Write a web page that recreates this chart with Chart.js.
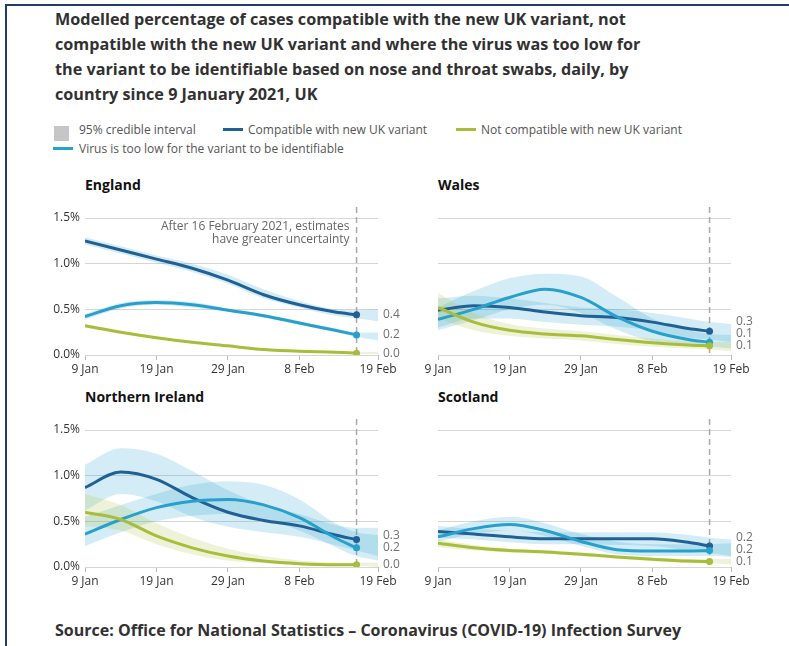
<!DOCTYPE html>
<html>
<head>
<meta charset="utf-8">
<script src="https://cdn.jsdelivr.net/npm/chart.js@4.4.1/dist/chart.umd.min.js"></script>
<style>
  body { margin: 0; background: #fff; font-family: "Open Sans", sans-serif; color: #222; }
  #page { position: relative; width: 789px; height: 646px; overflow: hidden; }
  #frame { position: absolute; left: 5px; top: 4px; width: 800px; height: 700px;
           border-left: 2px solid #233b68; border-top: 2px solid #233b68; }
  #title { position: absolute; left: 55px; top: 7px; font-size: 16.2px; font-weight: 700;
           line-height: 25px; color: #323132; white-space: nowrap; }
  .lg { position: absolute; font-size: 12px; color: #555; white-space: nowrap; line-height: 16px; }
  .sw { position: absolute; }
  .ptitle { position: absolute; font-size: 14px; font-weight: 700; color: #111; line-height: 18px; }
  canvas { position: absolute; }
  #source { position: absolute; left: 55px; top: 619px; font-size: 16px; font-weight: 700; color: #323132; white-space: nowrap; }
</style>
</head>
<body>
<div id="page">
  <div id="frame"></div>
  <div id="title">Modelled percentage of cases compatible with the new UK variant, not<br>compatible with the new UK variant and where the virus was too low for<br>the variant to be identifiable based on nose and throat swabs, daily, by<br>country since 9 January 2021, UK</div>

  <div class="sw" style="left:54px;top:126px;width:15px;height:15px;background:#c6c6c6"></div>
  <div class="lg" style="left:79px;top:122px">95% credible interval</div>
  <div class="sw" style="left:223px;top:128px;width:20px;height:3px;background:#206095"></div>
  <div class="lg" style="left:248px;top:122px">Compatible with new UK variant</div>
  <div class="sw" style="left:456px;top:128px;width:20px;height:3px;background:#a8bd3a"></div>
  <div class="lg" style="left:481px;top:122px">Not compatible with new UK variant</div>
  <div class="sw" style="left:53px;top:147px;width:20px;height:3px;background:#27a0cc"></div>
  <div class="lg" style="left:79px;top:141px">Virus is too low for the variant to be identifiable</div>

  <div class="ptitle" style="left:85px;top:176px">England</div>
  <div class="ptitle" style="left:438px;top:176px">Wales</div>
  <div class="ptitle" style="left:85px;top:388px">Northern Ireland</div>
  <div class="ptitle" style="left:438px;top:388px">Scotland</div>

  <canvas id="england" width="386" height="190" style="left:30px;top:195px"></canvas>
  <canvas id="wales" width="386" height="190" style="left:383px;top:195px"></canvas>
  <canvas id="ni" width="386" height="190" style="left:30px;top:407px"></canvas>
  <canvas id="scotland" width="386" height="190" style="left:383px;top:407px"></canvas>

  <div id="source">Source: Office for National Statistics – Coronavirus (COVID-19) Infection Survey</div>
</div>

<script>
// days after 9 Jan 2021; lines stop at 16 Feb (day 38), intervals run on to 19 Feb (day 41)
var days = [0, 5, 10, 15, 20, 25, 30, 35, 38];
var bandDays = [0, 5, 10, 15, 20, 25, 30, 35, 38, 41];
var tickDays = [0, 10, 20, 30, 41];
var tickLabels = ['9 Jan', '19 Jan', '29 Jan', '8 Feb', '19 Feb'];
var yTicks = [0, 0.5, 1.0, 1.5];
var cutoffDay = 38;

// England
var engCompat = [1.25, 1.15, 1.05, 0.95, 0.82, 0.66, 0.55, 0.47, 0.44];
var engCompatLo = [1.21, 1.11, 1.01, 0.91, 0.78, 0.62, 0.52, 0.43, 0.40, 0.37];
var engCompatHi = [1.29, 1.19, 1.09, 1.00, 0.88, 0.72, 0.59, 0.50, 0.49, 0.50];
var engLow = [0.42, 0.54, 0.575, 0.55, 0.49, 0.43, 0.35, 0.27, 0.22];
var engLowLo = [0.39, 0.51, 0.55, 0.52, 0.47, 0.41, 0.33, 0.25, 0.20, 0.16];
var engLowHi = [0.45, 0.57, 0.60, 0.58, 0.51, 0.45, 0.37, 0.29, 0.245, 0.245];
var engNot = [0.32, 0.25, 0.19, 0.14, 0.10, 0.06, 0.04, 0.03, 0.02];
var engNotLo = [0.30, 0.235, 0.18, 0.13, 0.09, 0.055, 0.035, 0.02, 0.015, 0.01];
var engNotHi = [0.34, 0.265, 0.20, 0.15, 0.11, 0.065, 0.045, 0.035, 0.03, 0.035];

// Wales
var walCompat = [0.49, 0.54, 0.52, 0.47, 0.43, 0.41, 0.36, 0.29, 0.26];
var walCompatLo = [0.30, 0.40, 0.40, 0.36, 0.33, 0.31, 0.27, 0.19, 0.17, 0.14];
var walCompatHi = [0.62, 0.65, 0.62, 0.57, 0.52, 0.50, 0.46, 0.40, 0.36, 0.34];
var walLow = [0.39, 0.50, 0.63, 0.72, 0.63, 0.42, 0.26, 0.17, 0.14];
var walLowLo = [0.27, 0.38, 0.50, 0.55, 0.46, 0.28, 0.15, 0.10, 0.09, 0.07];
var walLowHi = [0.52, 0.70, 0.84, 0.89, 0.86, 0.64, 0.40, 0.27, 0.23, 0.22];
var walNot = [0.52, 0.36, 0.27, 0.23, 0.21, 0.17, 0.135, 0.11, 0.10];
var walNotLo = [0.40, 0.27, 0.21, 0.18, 0.16, 0.12, 0.09, 0.07, 0.06, 0.04];
var walNotHi = [0.68, 0.46, 0.34, 0.29, 0.26, 0.22, 0.18, 0.15, 0.14, 0.14];

// Northern Ireland
var niCompat = [0.87, 1.04, 0.96, 0.76, 0.60, 0.51, 0.45, 0.35, 0.30];
var niCompatLo = [0.62, 0.80, 0.72, 0.55, 0.44, 0.38, 0.33, 0.24, 0.18, 0.12];
var niCompatHi = [1.12, 1.30, 1.24, 1.05, 0.84, 0.68, 0.58, 0.46, 0.43, 0.43];
var niLow = [0.36, 0.52, 0.65, 0.72, 0.74, 0.68, 0.54, 0.32, 0.21];
var niLowLo = [0.23, 0.38, 0.50, 0.56, 0.58, 0.52, 0.40, 0.22, 0.12, 0.07];
var niLowHi = [0.55, 0.68, 0.80, 0.90, 0.94, 0.90, 0.74, 0.48, 0.38, 0.35];
var niNot = [0.60, 0.52, 0.34, 0.21, 0.12, 0.065, 0.036, 0.025, 0.025];
var niNotLo = [0.45, 0.40, 0.25, 0.14, 0.07, 0.04, 0.02, 0.01, 0.01, 0.0];
var niNotHi = [0.80, 0.68, 0.48, 0.32, 0.20, 0.12, 0.07, 0.05, 0.05, 0.05];

// Scotland
var scoCompat = [0.39, 0.36, 0.33, 0.31, 0.31, 0.31, 0.31, 0.27, 0.23];
var scoCompatLo = [0.32, 0.30, 0.27, 0.25, 0.25, 0.24, 0.23, 0.18, 0.15, 0.12];
var scoCompatHi = [0.45, 0.42, 0.40, 0.38, 0.38, 0.38, 0.38, 0.35, 0.32, 0.30];
var scoLow = [0.33, 0.42, 0.465, 0.40, 0.28, 0.19, 0.175, 0.175, 0.18];
var scoLowLo = [0.28, 0.36, 0.40, 0.34, 0.23, 0.14, 0.12, 0.12, 0.12, 0.11];
var scoLowHi = [0.40, 0.50, 0.55, 0.48, 0.36, 0.28, 0.25, 0.25, 0.25, 0.26];
var scoNot = [0.26, 0.21, 0.18, 0.165, 0.14, 0.11, 0.085, 0.065, 0.06];
var scoNotLo = [0.22, 0.18, 0.16, 0.145, 0.12, 0.09, 0.065, 0.045, 0.04, 0.03];
var scoNotHi = [0.30, 0.24, 0.20, 0.185, 0.16, 0.13, 0.105, 0.09, 0.085, 0.09];

var darkBlue = '#206095';
var lightBlue = '#27a0cc';
var green = '#a8bd3a';
var blueBand = 'rgba(39, 160, 204, 0.2)';
var greenBand = 'rgba(168, 189, 58, 0.2)';

function pts(xs, ys) {
   return xs.map(function (x, i) { return { x: x, y: ys[i] }; });
}

function bandSets(lo, hi, colour, base) {
   return [
      { data: pts(bandDays, lo), borderWidth: 0, pointRadius: 0, fill: false, order: 5,
        cubicInterpolationMode: 'monotone' },
      { data: pts(bandDays, hi), borderWidth: 0, pointRadius: 0, fill: { target: base },
        backgroundColor: colour, order: 5, cubicInterpolationMode: 'monotone' }
   ];
}

function lineSet(vals, colour) {
   return {
      data: pts(days, vals), borderColor: colour, backgroundColor: colour,
      borderWidth: 3, fill: false, order: 1, cubicInterpolationMode: 'monotone',
      pointBorderWidth: 0,
      pointRadius: function (c) { return c.dataIndex === vals.length - 1 ? 3.5 : 0; },
      endLabel: true
   };
}

// dashed cut-off line, the end-value labels and the note
var panelExtras = {
   id: 'panelExtras',
   beforeDatasetsDraw: function (chart) {
      var ctx = chart.ctx, x = chart.scales.x.getPixelForValue(cutoffDay);
      ctx.save();
      ctx.strokeStyle = '#aaa';
      ctx.lineWidth = 1.5;
      ctx.setLineDash([6, 4]);
      ctx.beginPath();
      ctx.moveTo(x, chart.chartArea.top - 11);
      ctx.lineTo(x, chart.chartArea.bottom);
      ctx.stroke();
      ctx.restore();
   },
   afterDraw: function (chart) {
      var ctx = chart.ctx, ys = chart.scales.y, area = chart.chartArea;
      var labels = [];
      chart.data.datasets.forEach(function (ds) {
         if (!ds.endLabel) return;
         var v = ds.data[ds.data.length - 1].y;
         labels.push({ text: v.toFixed(1), y: ys.getPixelForValue(v) });
      });
      // push overlapping labels upwards, starting from the lowest
      labels.sort(function (a, b) { return b.y - a.y; });
      for (var i = 1; i < labels.length; i++) {
         if (labels[i - 1].y - labels[i].y < 12) labels[i].y = labels[i - 1].y - 12;
      }
      ctx.save();
      ctx.font = '12px "Open Sans"';
      ctx.fillStyle = '#707070';
      ctx.textBaseline = 'middle';
      labels.forEach(function (l) { ctx.fillText(l.text, area.right + 5, l.y); });
      var note = chart.options.plugins.panelExtras.note;
      if (note) {
         ctx.fillStyle = '#666';
         ctx.textAlign = 'right';
         var nx = chart.scales.x.getPixelForValue(cutoffDay) - 7;
         note.forEach(function (t, k) { ctx.fillText(t, nx, area.top + 9 + k * 13); });
      }
      ctx.restore();
   }
};

function makePanel(id, lines, bands, showY, note) {
   var datasets = [];
   bands.forEach(function (b) {
      var base = datasets.length;
      datasets = datasets.concat(bandSets(b[0], b[1], b[2], base));
   });
   lines.forEach(function (l) { datasets.push(lineSet(l[0], l[1])); });

   return new Chart(document.getElementById(id).getContext('2d'), {
      type: 'line',
      data: { datasets: datasets },
      plugins: [panelExtras],
      options: {
         responsive: false,
         animation: false,
         events: [],
         layout: { padding: { top: 23, right: 38, bottom: 0, left: 0 } },
         plugins: {
            legend: { display: false },
            tooltip: { enabled: false },
            panelExtras: { note: note }
         },
         scales: {
            x: {
               type: 'linear', min: 0, max: 41,
               afterBuildTicks: function (s) { s.ticks = tickDays.map(function (v) { return { value: v }; }); },
               afterFit: function (s) { s.height = 30; },
               grid: { drawOnChartArea: false, tickLength: 5, color: '#bbb' },
               border: { display: false },
               ticks: {
                  autoSkip: false, maxRotation: 0, padding: 2, color: '#333',
                  font: { family: 'Open Sans', size: 12 },
                  callback: function (v) { return tickLabels[tickDays.indexOf(v)]; }
               }
            },
            y: {
               min: 0, max: 1.5,
               afterBuildTicks: function (s) { s.ticks = yTicks.map(function (v) { return { value: v }; }); },
               afterFit: function (s) { s.width = 55; },
               grid: { color: '#d6d6d6', drawTicks: false },
               border: { display: false },
               ticks: {
                  display: showY, padding: 5, color: '#333',
                  font: { family: 'Open Sans', size: 12 },
                  callback: function (v) { return v.toFixed(1) + '%'; }
               }
            }
         }
      }
   });
}

makePanel('england',
   [[engNot, green], [engLow, lightBlue], [engCompat, darkBlue]],
   [[engNotLo, engNotHi, greenBand], [engLowLo, engLowHi, blueBand], [engCompatLo, engCompatHi, blueBand]],
   true, ['After 16 February 2021, estimates', 'have greater uncertainty']);

makePanel('wales',
   [[walNot, green], [walLow, lightBlue], [walCompat, darkBlue]],
   [[walNotLo, walNotHi, greenBand], [walLowLo, walLowHi, blueBand], [walCompatLo, walCompatHi, blueBand]],
   false, null);

makePanel('ni',
   [[niNot, green], [niLow, lightBlue], [niCompat, darkBlue]],
   [[niNotLo, niNotHi, greenBand], [niLowLo, niLowHi, blueBand], [niCompatLo, niCompatHi, blueBand]],
   true, null);

makePanel('scotland',
   [[scoNot, green], [scoLow, lightBlue], [scoCompat, darkBlue]],
   [[scoNotLo, scoNotHi, greenBand], [scoLowLo, scoLowHi, blueBand], [scoCompatLo, scoCompatHi, blueBand]],
   false, null);
</script>
</body>
</html>
